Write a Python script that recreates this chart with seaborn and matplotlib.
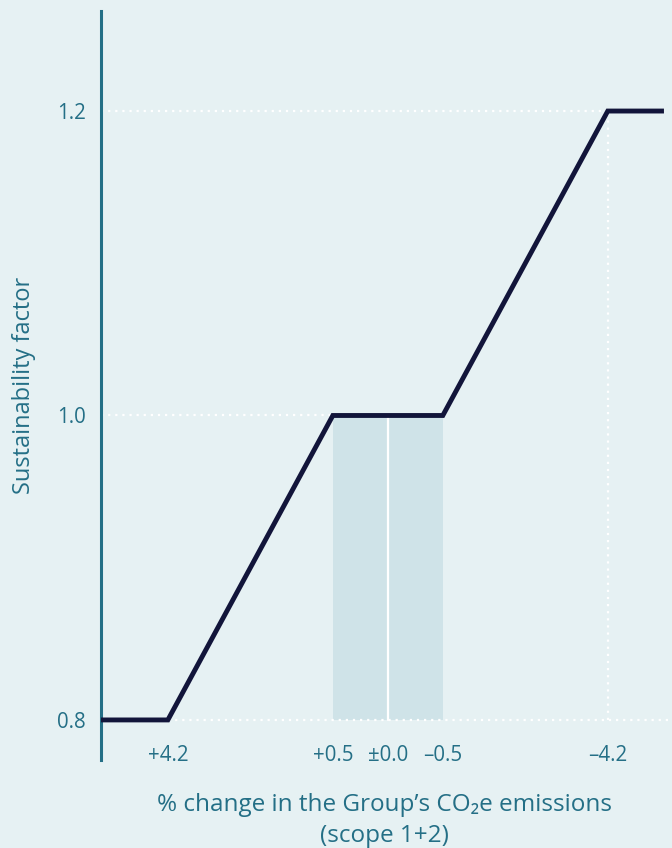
import numpy as np
import pandas as pd
import matplotlib
matplotlib.use("Agg")
import matplotlib.pyplot as plt
import seaborn as sns

# data
change_pct = [5.70, 4.2, 0.5, -0.5, -4.2, -5.46]      # % change in CO2e emissions
sust_factor = [0.8, 0.8, 1.0, 1.0, 1.2, 1.2]
tick_values = [4.2, 0.5, 0.0, -0.5, -4.2]
tick_labels = ["+4.2", "+0.5", "\u00b10.0", "\u20130.5", "\u20134.2"]
y_ticks = [0.8, 1.0, 1.2]
y_tick_labels = ["0.8", "1.0", "1.2"]
band_edges = [0.5, -0.5]

bg = "#e6f1f3"
teal = "#246f86"
navy = "#12153a"
band = "#cfe3e8"

sns.set_style("white")
plt.rcParams['font.family'] = ['Open Sans', 'DejaVu Sans']

df = pd.DataFrame({"change": change_pct, "factor": sust_factor})


# axis is not linear: the +-0.5 corridor is stretched
def fwd(x):
    x = np.asarray(x, dtype=float)
    a = np.abs(x)
    return np.sign(x) * np.where(a <= 0.5, 2 * a, 1 + (a - 0.5) * 3 / 3.7)


def inv(u):
    u = np.asarray(u, dtype=float)
    a = np.abs(u)
    return np.sign(u) * np.where(a <= 1, a / 2, 0.5 + (a - 1) * 3.7 / 3)


fig = plt.figure(figsize=(6.72, 8.48), dpi=100, facecolor=bg)
ax = fig.add_axes([0.1503, 0.1038, 0.8437, 0.8832])
ax.set_facecolor(bg)
ax.set_xscale("function", functions=(fwd, inv))
xl = (5.70, -5.55)
ax.set_xlim(*xl)
ax.set_ylim(0.7737, 1.2657)

# shaded corridor
ax.fill_between(band_edges, 0.8, 1.0, color=band, lw=0, zorder=1)
ax.plot([0, 0], [0.8, 1.0], color="white", lw=1.6, zorder=2)

# dotted guides
dot = dict(color="white", lw=1.6, ls=(0, (1, 2.2)), zorder=1.5)
ax.plot([xl[0], tick_values[4]], [1.2, 1.2], **dot)
ax.plot([xl[0], tick_values[1]], [1.0, 1.0], **dot)
ax.plot([tick_values[0], xl[1]], [0.8, 0.8], **dot)
ax.plot([tick_values[4], tick_values[4]], [0.8, 1.2], **dot)

sns.lineplot(data=df, x="change", y="factor", sort=False, color=navy, lw=3.5,
             ax=ax, zorder=3, solid_joinstyle="miter", solid_capstyle="butt")

for s in ["top", "right", "bottom"]:
    ax.spines[s].set_visible(False)
ax.spines["left"].set_color(teal)
ax.spines["left"].set_linewidth(2.2)

ax.set_xticks(tick_values)
ax.set_xticklabels(tick_labels)
ax.set_yticks(y_ticks)
ax.set_yticklabels(y_tick_labels)
ax.xaxis.set_minor_locator(matplotlib.ticker.NullLocator())
ax.tick_params(axis="x", length=0, pad=-11, labelsize=14.8, labelcolor=teal)
ax.tick_params(axis="y", length=0, pad=11, labelsize=14.8, labelcolor=teal)

ax.set_xlabel("% change in the Group\u2019s CO\u2082e emissions\n(scope 1+2)",
              fontsize=17.5, color=teal, linespacing=1.35, labelpad=20)
ax.set_ylabel("Sustainability factor", fontsize=17, color=teal)
ax.yaxis.set_label_coords(-0.115, 0.5)

fig.savefig("out.png", dpi=100, facecolor=bg)
